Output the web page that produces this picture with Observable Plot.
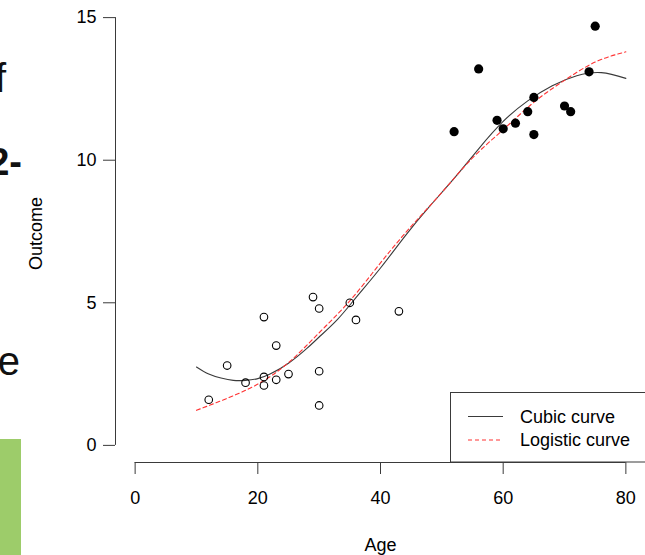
<!DOCTYPE html>
<html>
<head>
<meta charset="utf-8">
<script src="https://cdn.jsdelivr.net/npm/d3@7"></script>
<script src="https://cdn.jsdelivr.net/npm/@observablehq/plot@0.6"></script>
<style>
  html, body { margin: 0; padding: 0; background: #fff; }
  #wrap { position: relative; width: 645px; height: 555px; overflow: hidden;
          font-family: "Liberation Sans", Arial, sans-serif; }
  #wrap > svg { position: absolute; left: 0; top: 0; }
  #slide, #legend { position: absolute; left: 0; top: 0; pointer-events: none; }
</style>
</head>
<body>
<div id="wrap"></div>
<script>
// ---- data ----
const openAge      = [12, 15, 18, 21, 21, 21, 23, 23, 25, 29, 30, 30, 30, 35, 36, 43];
const openOutcome  = [1.6, 2.8, 2.2, 4.5, 2.4, 2.1, 3.5, 2.3, 2.5, 5.2, 4.8, 2.6, 1.4, 5.0, 4.4, 4.7];
const filledAge     = [52, 56, 59, 60, 62, 64, 65, 65, 70, 71, 74, 75];
const filledOutcome = [11.0, 13.2, 11.4, 11.1, 11.3, 11.7, 12.2, 10.9, 11.9, 11.7, 13.1, 14.7];

const cubicAge     = [10, 12, 14, 16, 18, 20, 22, 25, 28, 30, 33, 36, 40, 44, 48, 52, 56, 60, 64, 68, 72, 76, 80];
const cubicOutcome = [2.75, 2.50, 2.36, 2.28, 2.28, 2.34, 2.50, 2.88, 3.40, 3.80, 4.42, 5.18, 6.22, 7.34, 8.38, 9.36, 10.40, 11.36, 12.08, 12.61, 12.96, 13.07, 12.87];

const logisticAge     = [10, 15, 20, 25, 30, 35, 40, 45, 50, 55, 60, 65, 70, 75, 80];
const logisticOutcome = [1.23, 1.65, 2.15, 2.90, 3.95, 5.07, 6.40, 7.68, 8.87, 10.08, 11.07, 12.03, 12.80, 13.44, 13.80];

const xTicks = [0, 20, 40, 60, 80];
const yTicks = [0, 5, 10, 15];
const xDomain = [-3.2, 83.2];
const yDomain = [-0.6, 15.6];
const xLabel = "Age";
const yLabel = "Outcome";
const legendLabels = ["Cubic curve", "Logistic curve"];
const slideFragments = ["f", "2-", "e"];

// ---- build tables ----
const openPts   = openAge.map((a, i) => ({age: a, outcome: openOutcome[i]}));
const filledPts = filledAge.map((a, i) => ({age: a, outcome: filledOutcome[i]}));
const cubic     = cubicAge.map((a, i) => ({age: a, outcome: cubicOutcome[i]}));
const logistic  = logisticAge.map((a, i) => ({age: a, outcome: logisticOutcome[i]}));

const axisColor = "#3a3a3a";
const cubicColor = "#3a3a3a";
const logisticColor = "#ff3333";
const font = "'Liberation Sans', Arial, sans-serif";

const chart = Plot.plot({
  width: 645,
  height: 555,
  marginLeft: 115,
  marginRight: 0,
  marginTop: 0,
  marginBottom: 93,
  x: {domain: xDomain},
  y: {domain: yDomain},
  style: {fontFamily: font, fontSize: "18px", background: "transparent", color: "black", overflow: "visible"},
  marks: [
    // axis lines (R style: from first to last tick)
    Plot.ruleX([xDomain[0]], {y1: yTicks[0], y2: yTicks[yTicks.length - 1], stroke: axisColor}),
    Plot.ruleY([yDomain[0]], {x1: xTicks[0], x2: xTicks[xTicks.length - 1], stroke: axisColor}),
    Plot.axisY(yTicks, {anchor: "left", tickSize: 12, tickPadding: 7, stroke: axisColor,
                        fill: "black", fontSize: 18, label: null}),
    Plot.axisX(xTicks, {anchor: "bottom", tickSize: 12, tickPadding: 17, stroke: axisColor,
                        fill: "black", fontSize: 18, label: null}),
    Plot.text([yLabel], {text: d => d, frameAnchor: "left", textAnchor: "middle", lineAnchor: "middle",
                         rotate: -90, dx: -79, dy: 2, fontSize: 18, fill: "black"}),
    Plot.text([xLabel], {text: d => d, frameAnchor: "bottom", textAnchor: "middle", lineAnchor: "middle",
                         dy: 83, fontSize: 18, fill: "black"}),
    // curves
    Plot.line(cubic, {x: "age", y: "outcome", stroke: cubicColor, strokeWidth: 1.1, curve: "natural"}),
    Plot.line(logistic, {x: "age", y: "outcome", stroke: logisticColor, strokeWidth: 1.1,
                         strokeDasharray: "4,3", curve: "natural"}),
    // points
    Plot.dot(openPts, {x: "age", y: "outcome", r: 3.8, stroke: "black", strokeWidth: 1.1, fill: "none"}),
    Plot.dot(filledPts, {x: "age", y: "outcome", r: 4.6, fill: "black", stroke: "none"})
  ]
});

const wrap = document.getElementById("wrap");

// background fragments of the slide (left edge, cropped in the reference)
const slide = d3.create("svg").attr("id", "slide").attr("width", 645).attr("height", 555);
slide.append("rect").attr("x", 0).attr("y", 439).attr("width", 21).attr("height", 116).attr("fill", "#9dcc6a");
const fragPos = [{x: 6, y: 92, w: 400, s: 40}, {x: 22, y: 175, w: 700, s: 38}, {x: 20, y: 375, w: 400, s: 40}];
slideFragments.forEach((t, i) => {
  slide.append("text").attr("x", fragPos[i].x).attr("y", fragPos[i].y)
    .attr("text-anchor", "end").attr("font-family", font).attr("font-size", fragPos[i].s)
    .attr("font-weight", fragPos[i].w).attr("fill", "#111").text(t);
});
wrap.appendChild(slide.node());
wrap.appendChild(chart);

// legend (bottom-right, R style)
const leg = d3.create("svg").attr("id", "legend").attr("width", 645).attr("height", 555);
leg.append("rect").attr("x", 450.5).attr("y", 392.5).attr("width", 220).attr("height", 69.5)
  .attr("fill", "white").attr("stroke", axisColor).attr("stroke-width", 1);
const legStyles = [{stroke: cubicColor, dash: null}, {stroke: logisticColor, dash: "4,3"}];
legendLabels.forEach((t, i) => {
  const cy = 416.5 + i * 23.5;
  leg.append("line").attr("x1", 468).attr("x2", 503).attr("y1", cy).attr("y2", cy)
    .attr("stroke", legStyles[i].stroke).attr("stroke-width", 1.1)
    .attr("stroke-dasharray", legStyles[i].dash);
  leg.append("text").attr("x", 520).attr("y", cy).attr("dy", "0.35em")
    .attr("font-family", font).attr("font-size", 18).attr("fill", "black").text(t);
});
wrap.appendChild(leg.node());
</script>
</body>
</html>
